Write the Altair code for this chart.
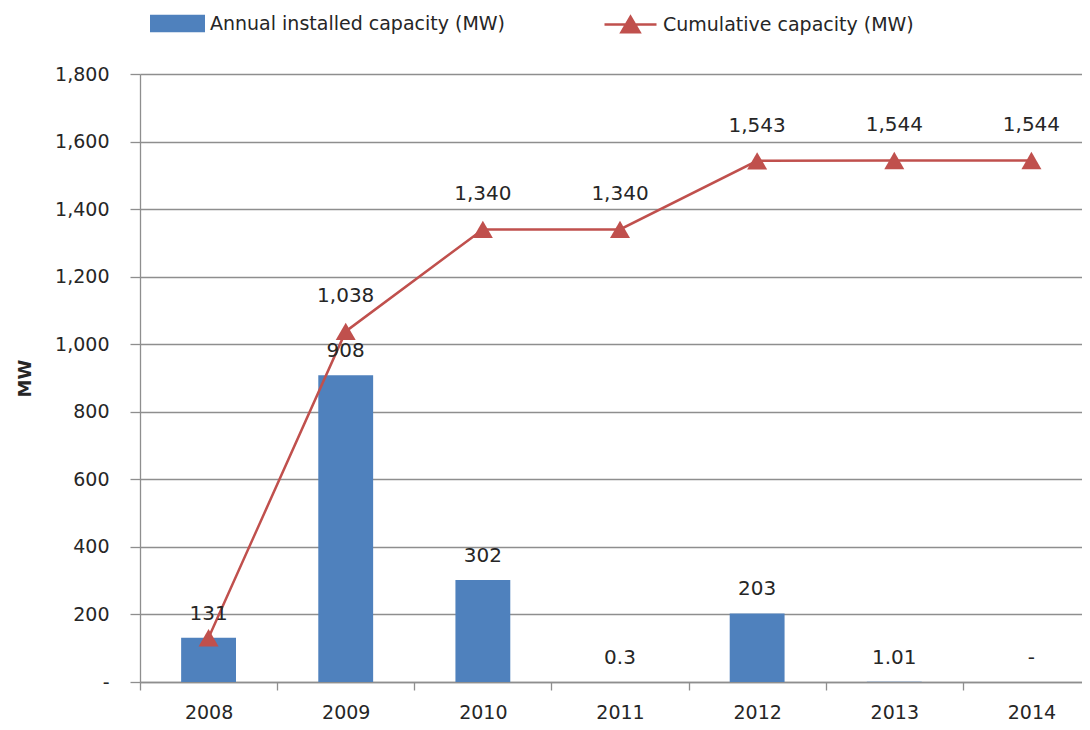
import altair as alt
import pandas as pd

years = ["2008", "2009", "2010", "2011", "2012", "2013", "2014"]
annual = [131, 908, 302, 0.3, 203, 1.01, 0]
annual_labels = ["131", "908", "302", "0.3", "203", "1.01", "-"]
cumulative = [131, 1038, 1340, 1340, 1543, 1544, 1544]
cumulative_labels = ["", "1,038", "1,340", "1,340", "1,543", "1,544", "1,544"]
y_ticks = [0, 200, 400, 600, 800, 1000, 1200, 1400, 1600, 1800]

BAR_NAME = "Annual installed capacity (MW)"
LINE_NAME = "Cumulative capacity (MW)"

df = pd.DataFrame({
    "year": years,
    "annual": annual,
    "annual_label": annual_labels,
    "cum": cumulative,
    "cum_label": cumulative_labels,
})

FONT = "DejaVu Sans"
BLUE = "#4F81BD"
RED = "#C0504D"
TXT = "#262626"
GRID = "#8E8E8E"

x = alt.X(
    "year:N", title=None,
    scale=alt.Scale(range=[0, 960], paddingInner=0, paddingOuter=0),
    axis=alt.Axis(labelAngle=0, tickBand="extent", tickSize=8, tickColor=GRID, tickWidth=1.3,
                  domainColor=GRID, domainWidth=1.3, labelFont=FONT, labelFontSize=19,
                  labelColor=TXT, labelPadding=13, grid=False),
)

yaxis = alt.Axis(values=y_ticks,
                 labelExpr="datum.value == 0 ? '-' : format(datum.value, ',')",
                 grid=True, gridColor=GRID, gridWidth=1.3, tickSize=10, tickColor=GRID,
                 tickWidth=1.3, domainColor=GRID, domainWidth=1.3, labelFont=FONT,
                 labelFontSize=19, labelColor=TXT, labelPadding=21, titleFont=FONT,
                 titleFontSize=18, titleFontWeight="bold", titleColor=TXT, titlePadding=20)
yscale = alt.Scale(domain=[0, 1800], nice=False)

base = alt.Chart(df)

bars = base.mark_bar(width=alt.RelativeBandSize(0.4)).transform_calculate(s1=f"'{BAR_NAME}'").encode(
    x=x,
    y=alt.Y("annual:Q", title="MW", scale=yscale, axis=yaxis),
    fill=alt.Fill("s1:N", scale=alt.Scale(domain=[BAR_NAME], range=[BLUE]),
                  legend=alt.Legend(orient="none", legendX=10, legendY=-78, title=None,
                                    symbolType="M-1,-0.32H1V0.32H-1Z", symbolSize=3025,
                                    symbolStrokeWidth=0, labelFont=FONT, labelFontSize=19,
                                    labelColor=TXT, labelOffset=5, labelLimit=0, padding=0)),
)

line = base.mark_line(strokeWidth=2.5).transform_calculate(s2=f"'{LINE_NAME}'").encode(
    x=x,
    y=alt.Y("cum:Q", title="MW", scale=yscale, axis=yaxis),
    stroke=alt.Stroke("s2:N", scale=alt.Scale(domain=[LINE_NAME], range=[RED]),
                      legend=alt.Legend(orient="none", legendX=463, legendY=-77, title=None,
                                        symbolType="M-1,0H1M-0.35,0.3L0,-0.3L0.35,0.3Z",
                                        symbolSize=2704, symbolStrokeWidth=2.5,
                                        symbolFillColor=RED, labelFont=FONT, labelFontSize=19,
                                        labelColor=TXT, labelOffset=5, labelLimit=0, padding=0)),
)

points = base.mark_point(shape="triangle-up", filled=True, size=400, color=RED, opacity=1).encode(
    x=x, y=alt.Y("cum:Q", scale=yscale),
)

bar_text = base.mark_text(dy=-24, font=FONT, fontSize=20, color=TXT).encode(
    x=x, y=alt.Y("annual:Q", scale=yscale), text="annual_label:N",
)

line_text = base.mark_text(dy=-35, font=FONT, fontSize=20, color=TXT).encode(
    x=x, y=alt.Y("cum:Q", scale=yscale), text="cum_label:N",
)

chart = alt.layer(bars, line, points, bar_text, line_text).properties(
    width=942, height=608,
    autosize=alt.AutoSizeParams(type="none"),
    padding={"left": 132, "top": 66, "right": 0, "bottom": 40},
).configure_view(stroke=None)

chart.save("out.html", embed_options={"renderer": "svg", "actions": False})
